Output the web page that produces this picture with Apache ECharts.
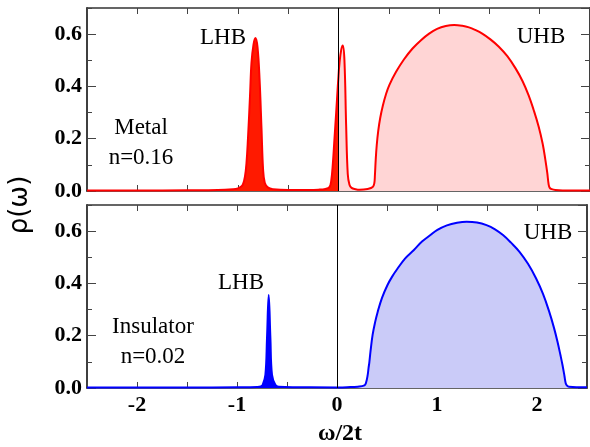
<!DOCTYPE html>
<html>
<head>
<meta charset="utf-8">
<script src="https://cdn.jsdelivr.net/npm/echarts@6/dist/echarts.min.js"></script>
<style>
  html, body { margin: 0; padding: 0; background: #fff; }
  #chart { width: 590px; height: 447px; }
</style>
</head>
<body>
<div id="chart"></div>
<script>
// Spectral function rho(omega) for the metallic state (n = 0.16)
const omegaMetal = [
  -2.5, -2.0, -1.5, -1.2, -1.05, -1.0, -0.97, -0.95, -0.93, -0.915, -0.9, -0.88,
  -0.865, -0.845, -0.825, -0.805, -0.785, -0.765, -0.75, -0.733, -0.7, -0.65,
  -0.5, -0.3, -0.2, -0.13, -0.09, -0.072, -0.056, -0.04, -0.023, -0.007, 0.0,
  0.01, 0.027, 0.043, 0.059, 0.076, 0.092, 0.109, 0.13, 0.17, 0.21, 0.29, 0.34,
  0.356, 0.362, 0.37, 0.38, 0.395, 0.415, 0.44, 0.472, 0.505, 0.571, 0.65,
  0.736, 0.82, 0.901, 0.98, 1.066, 1.15, 1.23, 1.297, 1.36, 1.429, 1.51, 1.594,
  1.68, 1.76, 1.83, 1.891, 1.94, 1.99, 2.03, 2.056, 2.075, 2.089, 2.1, 2.12,
  2.155, 2.3, 2.5
];
const rhoMetal = [
  0.002, 0.002, 0.003, 0.004, 0.007, 0.010, 0.016, 0.025, 0.055, 0.105, 0.20, 0.36,
  0.49, 0.56, 0.585, 0.55, 0.43, 0.235, 0.085, 0.032, 0.013, 0.007,
  0.004, 0.004, 0.005, 0.008, 0.015, 0.04, 0.105, 0.20, 0.30, 0.40, 0.44,
  0.49, 0.54, 0.557, 0.50, 0.25, 0.065, 0.024, 0.012, 0.007, 0.005, 0.008, 0.015,
  0.03, 0.06, 0.12, 0.175, 0.23, 0.28, 0.325, 0.37, 0.405, 0.455, 0.503,
  0.545, 0.577, 0.602, 0.62, 0.631, 0.635, 0.632, 0.626, 0.616, 0.602, 0.58, 0.552,
  0.515, 0.469, 0.42, 0.365, 0.31, 0.246, 0.18, 0.12, 0.07, 0.025, 0.012, 0.007,
  0.004, 0.002, 0.002
];

// Spectral function rho(omega) for the insulating state (n = 0.02)
const omegaInsulator = [
  -2.5, -2.0, -1.5, -1.0, -0.8, -0.762, -0.743, -0.716, -0.7, -0.683, -0.666,
  -0.65, -0.617, -0.584, -0.4, 0.0, 0.1, 0.208, 0.274, 0.29, 0.307, 0.315,
  0.324, 0.335, 0.356, 0.38, 0.406, 0.45, 0.505, 0.55, 0.604, 0.68, 0.769,
  0.85, 0.934, 1.0, 1.099, 1.2, 1.297, 1.4, 1.495, 1.58, 1.66, 1.74, 1.825,
  1.91, 1.99, 2.06, 2.122, 2.17, 2.205, 2.235, 2.255, 2.275, 2.287, 2.3, 2.32,
  2.485, 2.5
];
const rhoInsulator = [
  0.002, 0.002, 0.002, 0.003, 0.004, 0.006, 0.012, 0.05, 0.19, 0.356, 0.19,
  0.05, 0.012, 0.005, 0.003, 0.002, 0.003, 0.005, 0.01, 0.02, 0.05, 0.075,
  0.10, 0.14, 0.203, 0.25, 0.29, 0.345, 0.394, 0.425, 0.456, 0.495, 0.528,
  0.56, 0.585, 0.604, 0.622, 0.632, 0.636, 0.633, 0.623, 0.607, 0.585, 0.556, 0.521,
  0.475, 0.42, 0.36, 0.292, 0.23, 0.177, 0.125, 0.088, 0.045, 0.018, 0.009, 0.005,
  0.003, 0.003
];

// Axis tick labels
const xTickLabels = ['-2', '-1', '0', '1', '2'];
const yTickLabels = ['0.0', '0.2', '0.4', '0.6'];

const SERIF = '"Liberation Serif", "Times New Roman", serif';

function pairs(xs, ys, keep) {
  const out = [];
  for (let i = 0; i < xs.length; i++) if (keep(xs[i])) out.push([xs[i], ys[i]]);
  return out;
}

const frameLine = { show: true, onZero: false, lineStyle: { color: '#333', width: 1.5 } };

function xAxisFor(gridIndex, position, withLabels) {
  return {
    type: 'value', gridIndex, position,
    min: -2.5, max: 2.5, interval: 0.5,
    axisLine: frameLine,
    axisTick: { show: true, inside: true, length: 6, lineStyle: { color: '#444', width: 1 } },
    axisLabel: {
      show: withLabels, margin: 6,
      fontFamily: SERIF, fontWeight: 'bold', fontSize: 22, color: '#000',
      formatter: v => {
        const s = String(Math.round(v));
        return (Math.abs(v - Math.round(v)) < 1e-6 && xTickLabels.includes(s)) ? s : '';
      }
    },
    splitLine: { show: false }
  };
}

function yAxisFor(gridIndex, position, major, withLabels) {
  return {
    type: 'value', gridIndex, position,
    min: 0, max: 0.7, interval: major ? 0.2 : 0.1,
    axisLine: frameLine,
    axisTick: { show: true, inside: true, length: major ? 9 : 5, lineStyle: { color: '#444', width: 1 } },
    axisLabel: {
      show: withLabels, margin: 5, showMaxLabel: false,
      fontFamily: SERIF, fontWeight: 'bold', fontSize: 22, color: '#000',
      formatter: v => {
        const s = v.toFixed(1);
        return yTickLabels.includes(s) ? s : '';
      }
    },
    splitLine: { show: false }
  };
}

const zeroLine = {
  symbol: 'none', silent: true, animation: false,
  label: { show: false },
  lineStyle: { color: '#000', width: 1, type: 'solid' },
  data: [{ xAxis: 0 }]
};

function band(name, xIdx, yIdx, data, lineColor, fillColor, withZero) {
  const s = {
    name, type: 'line', xAxisIndex: xIdx, yAxisIndex: yIdx,
    data, showSymbol: false, symbol: 'none', smooth: 0.4,
    lineStyle: { color: lineColor, width: 2 },
    areaStyle: { color: fillColor, opacity: 1 },
    z: 3
  };
  if (withZero) { s.markLine = zeroLine; }
  return s;
}

const textStyle = (text, x, y) => ({
  type: 'text', x, y,
  style: {
    text, x: 0, y: 0, textAlign: 'center', textVerticalAlign: 'middle',
    font: '23px ' + SERIF, fill: '#000'
  },
  z: 10
});

const option = {
  animation: false,
  backgroundColor: '#fff',
  grid: [
    { left: 87, top: 8, width: 505, height: 183 },
    { left: 87, top: 205, width: 505, height: 183 }
  ],
  xAxis: [
    xAxisFor(0, 'bottom', false),
    xAxisFor(0, 'top', false),
    xAxisFor(1, 'bottom', true),
    xAxisFor(1, 'top', false)
  ],
  yAxis: [
    yAxisFor(0, 'left', true, true),
    yAxisFor(0, 'left', false, false),
    yAxisFor(0, 'right', true, false),
    yAxisFor(0, 'right', false, false),
    yAxisFor(1, 'left', true, true),
    yAxisFor(1, 'left', false, false),
    yAxisFor(1, 'right', true, false),
    yAxisFor(1, 'right', false, false)
  ],
  series: [
    band('Metal occupied', 0, 0, pairs(omegaMetal, rhoMetal, x => x <= 0), '#ff0000', '#ff1a00', false),
    band('Metal empty', 0, 0, pairs(omegaMetal, rhoMetal, x => x >= 0), '#ff0000', '#ffd5d5', true),
    band('Insulator occupied', 2, 4, pairs(omegaInsulator, rhoInsulator, x => x <= 0), '#0000ff', '#0000ff', false),
    band('Insulator empty', 2, 4, pairs(omegaInsulator, rhoInsulator, x => x >= 0), '#0000ff', '#cacbf8', true)
  ],
  graphic: [
    textStyle('LHB', 223, 38),
    textStyle('UHB', 541, 37),
    textStyle('Metal', 141, 128),
    textStyle('n=0.16', 141, 158),
    textStyle('LHB', 241, 283),
    textStyle('UHB', 548, 233),
    textStyle('Insulator', 153, 327),
    textStyle('n=0.02', 153, 357),
    {
      type: 'text', x: 340, y: 434,
      style: {
        text: 'ω/2t', x: 0, y: 0, textAlign: 'center', textVerticalAlign: 'middle',
        font: 'bold 24px ' + SERIF, fill: '#000'
      }
    },
    {
      type: 'text', x: 20, y: 205, rotation: Math.PI / 2,
      style: {
        text: 'ρ(ω)', x: 0, y: 0, textAlign: 'center', textVerticalAlign: 'middle',
        font: '26px "DejaVu Sans", sans-serif', fill: '#000'
      }
    }
  ]
};

const chart = echarts.init(document.getElementById('chart'), null, { renderer: 'canvas' });
chart.setOption(option);
</script>
</body>
</html>
